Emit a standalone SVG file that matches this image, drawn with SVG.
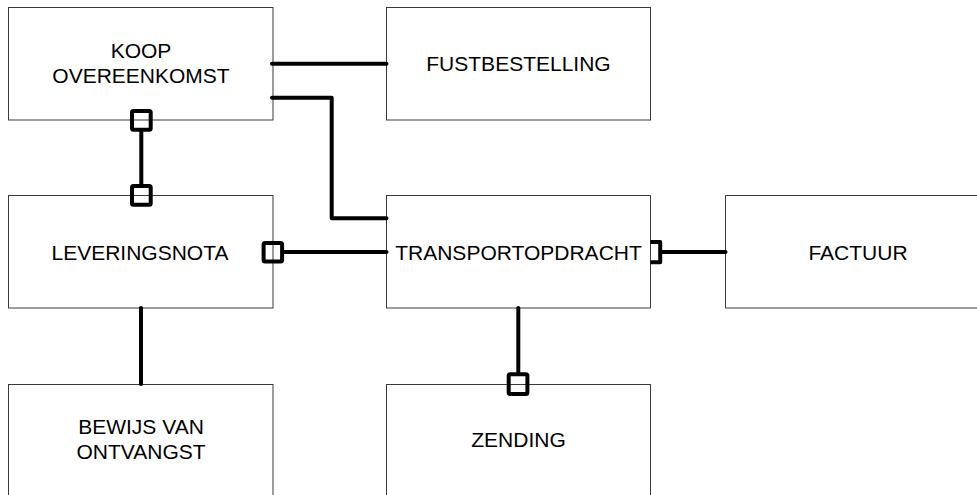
<svg xmlns="http://www.w3.org/2000/svg" width="977" height="495" viewBox="0 0 977 495">
  <style>
    .box { fill: #ffffff; stroke: #3a3a3a; stroke-width: 1; }
    .lbl { font-family: "Liberation Sans", Arial, sans-serif; font-size: 21px; fill: #000; text-anchor: middle; }
    .link { fill: none; stroke: #000; stroke-width: 4; stroke-linecap: round; stroke-linejoin: round; }
    .end { fill: none; stroke: #000; stroke-width: 4; stroke-linejoin: round; }
  </style>
  <rect width="977" height="495" fill="#ffffff"/>

  <g id="koopovereenkomst">
    <rect class="box" x="8.5" y="7.5" width="264.5" height="112.5"/>
    <text class="lbl" x="141" y="57.5">KOOP</text>
    <text class="lbl" x="141" y="82.5">OVEREENKOMST</text>
  </g>
  <g id="fustbestelling">
    <rect class="box" x="386.5" y="7.5" width="264" height="112.5"/>
    <text class="lbl" x="518.5" y="70.5">FUSTBESTELLING</text>
  </g>
  <g id="leveringsnota">
    <rect class="box" x="8.5" y="195.5" width="264.5" height="112.5"/>
    <text class="lbl" x="140" y="259.5">LEVERINGSNOTA</text>
  </g>
  <g id="transportopdracht">
    <rect class="box" x="386.5" y="195.5" width="264" height="112.5"/>
    <text class="lbl" x="518.5" y="259.5">TRANSPORTOPDRACHT</text>
  </g>
  <g id="factuur">
    <rect class="box" x="725.5" y="195.5" width="264" height="112.5"/>
    <text class="lbl" x="858" y="259.5">FACTUUR</text>
  </g>
  <g id="bewijs-van-ontvangst">
    <rect class="box" x="8.5" y="384.5" width="264.5" height="130"/>
    <text class="lbl" x="141" y="434">BEWIJS VAN</text>
    <text class="lbl" x="141" y="458.5">ONTVANGST</text>
  </g>
  <g id="zending">
    <rect class="box" x="386.5" y="384.5" width="264" height="130"/>
    <text class="lbl" x="518.5" y="446.5">ZENDING</text>
  </g>

  <g id="connectors">
    <!-- koopovereenkomst - fustbestelling -->
    <path class="link" d="M272,63.7 H386.5"/>
    <!-- koopovereenkomst - transportopdracht -->
    <path class="link" d="M272,97.7 H331.7 V218.3 H386.5"/>
    <!-- koopovereenkomst - leveringsnota (square ends) -->
    <path class="link" d="M141.3,131.5 V184"/>
    <rect class="end" x="132" y="111" width="18.7" height="18.7" rx="1.5"/>
    <rect class="end" x="132" y="186" width="18.7" height="18.7" rx="1.5"/>
    <!-- leveringsnota - transportopdracht -->
    <path class="link" d="M284,252 H386.5"/>
    <rect class="end" x="263.6" y="243" width="18.5" height="18.5" rx="1.5"/>
    <!-- transportopdracht - factuur -->
    <path class="end" d="M650.5,242 H660.2 V262.3 H650.5"/>
    <path class="link" d="M662,252 H725.5"/>
    <!-- leveringsnota - bewijs van ontvangst -->
    <path class="link" d="M141,308 V384"/>
    <!-- transportopdracht - zending -->
    <path class="link" d="M518.3,308 V373"/>
    <rect class="end" x="508.7" y="374.3" width="18.7" height="19.8" rx="1.5"/>
  </g>
</svg>
